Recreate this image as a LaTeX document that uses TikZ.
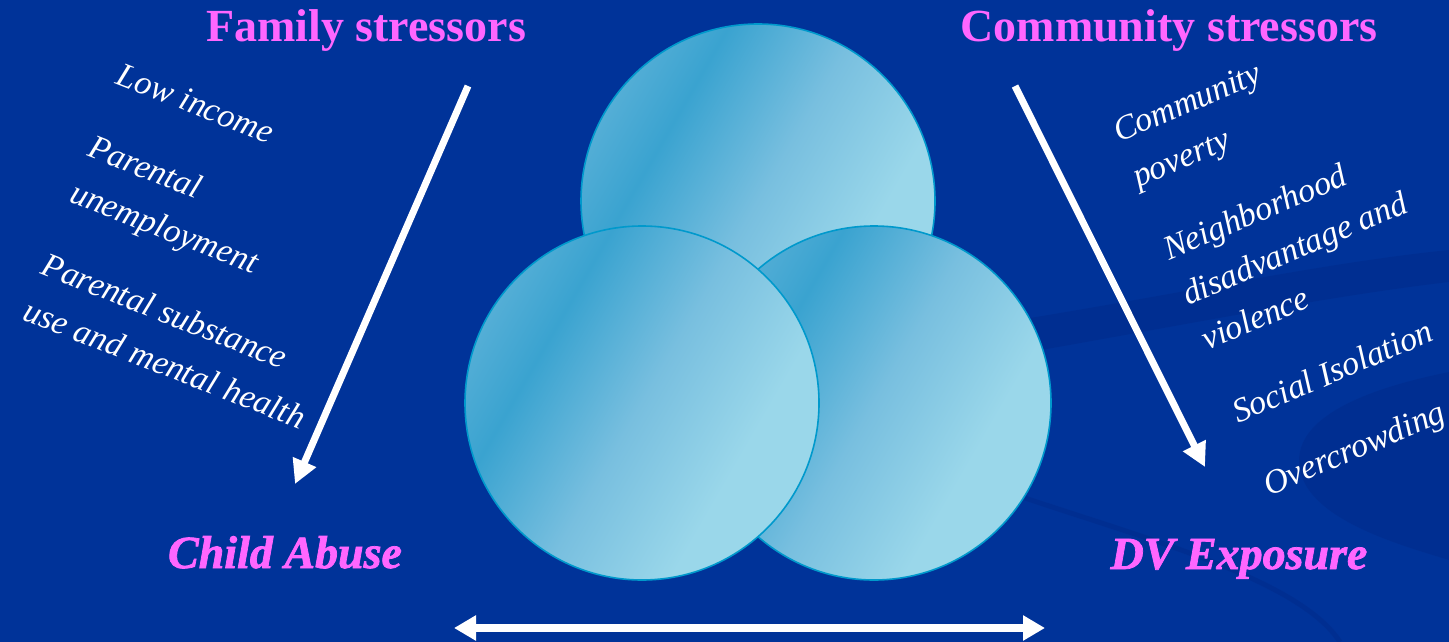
\documentclass[tikz,border=0pt]{standalone}
\usepackage{fontspec}
\setmainfont{Liberation Serif}
\newfontfamily\outcomefont{Liberation Serif}[BoldItalicFeatures={FakeBold=1.6}]
\usepackage{xcolor}
\usetikzlibrary{arrows.meta}

\definecolor{slide}{RGB}{0,51,153}
\definecolor{slidedark}{RGB}{0,43,138}
\definecolor{headpink}{RGB}{255,102,255}
\definecolor{bubedge}{RGB}{0,153,204}
\definecolor{bubrim}{RGB}{84,174,214}
\definecolor{bubdark}{RGB}{58,163,208}
\definecolor{bubmid}{RGB}{120,191,223}
\definecolor{bublight}{RGB}{154,215,234}

\pgfdeclarehorizontalshading{bubshade}{100bp}{color(0bp)=(bubrim); color(25bp)=(bubrim);
  color(34bp)=(bubdark); color(50bp)=(bubmid); color(66bp)=(bublight); color(100bp)=(bublight)}

\begin{document}
\begin{tikzpicture}[x=1pt, y=-1pt,
  head/.style={text=headpink, font=\fontsize{46}{50}\selectfont\bfseries, anchor=base},
  outcome/.style={text=headpink, font=\fontsize{46}{50}\selectfont\outcomefont\bfseries\itshape, anchor=base},
  stress/.style={text=white, align=left, inner sep=0, anchor=north west,
                 font=\fontsize{34}{49}\selectfont\itshape},
  bubble/.style={circle, draw=bubedge, line width=1.6pt, minimum size=354pt,
                 inner sep=0, shade, shading=bubshade, shading angle=-30},
  flow/.style={white, line width=7pt, -{Triangle[length=24pt, width=24pt]}},
  swoosh/.style={fill=slidedark, opacity=0.5}
]
\path[use as bounding box, fill=slide] (0,0) rectangle (1449,642);

% faint background swooshes
\fill[swoosh] (1030,318) .. controls (1200,290) and (1330,262) .. (1449,250)
  -- (1449,282) .. controls (1330,296) and (1200,322) .. (1030,352) -- cycle;
\fill[swoosh] (1449,372) .. controls (1360,390) and (1290,420) .. (1300,470)
  .. controls (1310,520) and (1400,545) .. (1449,560) -- cycle;
\draw[slidedark, line width=5pt, opacity=0.5] (1025,498) .. controls (1150,540) and (1300,580) .. (1340,642);

% titles
\node[head] (famhead) at (366,42) {Family stressors};
\node[head] (comhead) at (1169,42) {Community stressors};

% stressor lists
\node[stress, rotate=-21.5] (famlist) at (123,62)
  {Low income\\[29pt] Parental\\unemployment\\[29pt] Parental substance\\use and mental health};
\node[stress, rotate=23] (comlist) at (1110,122)
  {Community\\poverty\\[30pt] Neighborhood\\disadvantage and\\violence\\[30pt]
   Social Isolation\\[30pt] Overcrowding};

% overlapping circles
\node[bubble] (bubtop) at (758,201) {};
\node[bubble] (bubright) at (874,403) {};
\node[bubble] (bubleft) at (642,403) {};

% outcomes
\node[outcome] (abuse) at (285,568) {Child Abuse};
\node[outcome] (dvexp) at (1239,569) {DV Exposure};

% arrows
\coordinate (famtop) at (468,86);
\coordinate (famtip) at (295,484);
\coordinate (comtop) at (1015,86);
\coordinate (comtip) at (1205,467);
\coordinate (linkL) at (454,628);
\coordinate (linkR) at (1045,628);
\draw[flow] (famtop) -- (famtip);
\draw[flow] (comtop) -- (comtip);
\draw[white, line width=8pt, {Triangle[length=22pt, width=24pt]}-{Triangle[length=22pt, width=24pt]}]
  (linkL) -- (linkR);
\end{tikzpicture}
\end{document}
